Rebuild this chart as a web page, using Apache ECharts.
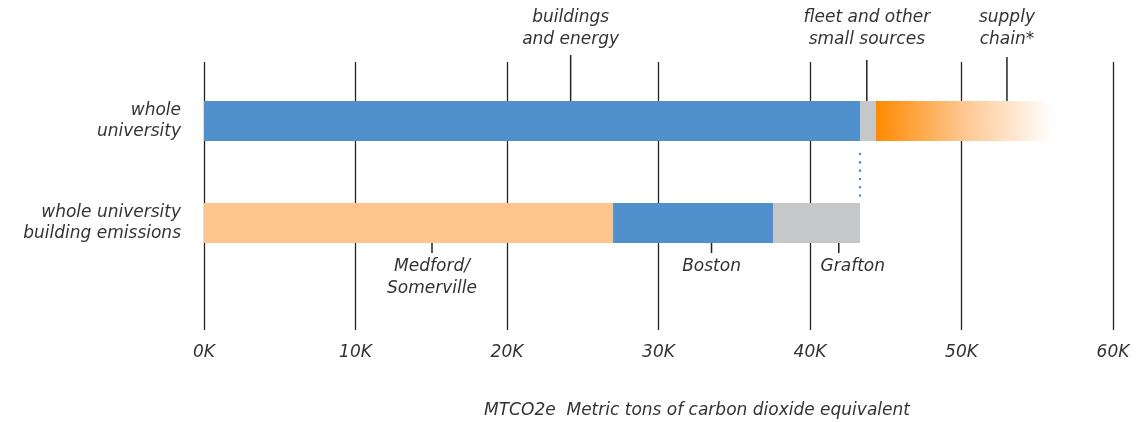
<!DOCTYPE html>
<html><head><meta charset="utf-8">
<script src="https://cdn.jsdelivr.net/npm/echarts@6/dist/echarts.min.js"></script>
<style>html,body{margin:0;padding:0;background:#fff}#c{width:1136px;height:422px}</style>
</head><body><div id="c"></div>
<script>
const categories = ['whole university', 'whole university building emissions'];
const categoryLabels = ['whole\nuniversity', 'whole university\nbuilding emissions'];
// segment values (MTCO2e) per row: [first, second, third]
const wholeUniversity = [43300, 1050, 11650];
const buildingEmissions = [27000, 10560, 5740];
const tickValues = [0, 10000, 20000, 30000, 40000, 50000, 60000];
const topAnnotations = [
  {text: 'buildings\nand energy', x: 24200},
  {text: 'fleet and other\nsmall sources', x: 43750},
  {text: 'supply\nchain*', x: 53000}
];
const bottomAnnotations = [
  {text: 'Medford/\nSomerville', x: 15050},
  {text: 'Boston', x: 33500},
  {text: 'Grafton', x: 41900}
];

const FONT = 'DejaVu Sans';
const FS = 17;
const BLUE = '#4f90cd', GRAY = '#c6c7c8', PEACH = '#fec48c';
const grad = new echarts.graphic.LinearGradient(0, 0, 1, 0, [
  {offset: 0, color: '#ff8a00'},
  {offset: 0.5, color: '#fec791'},
  {offset: 1, color: '#ffffff'}
]);
const colors = [[BLUE, PEACH], [GRAY, BLUE], [grad, GRAY]];

const chart = echarts.init(document.getElementById('c'), null, {renderer: 'canvas'});
const series = [0, 1, 2].map(i => ({
  type: 'bar', stack: 'total', xAxisIndex: 1, yAxisIndex: 1, barWidth: 40,
  silent: true,
  data: [
    {value: wholeUniversity[i], itemStyle: {color: colors[i][0]}},
    {value: buildingEmissions[i], itemStyle: {color: colors[i][1]}}
  ]
}));

const txt = {fontFamily: FONT, fontStyle: 'italic', fontSize: FS, color: '#333'};
chart.setOption({
  animation: false,
  grid: [
    {left: 204, right: 23, top: 62, bottom: 92},
    {left: 204, right: 23, top: 70, bottom: 148}
  ],
  xAxis: [
    {gridIndex: 0, type: 'value', min: 0, max: 60000, interval: 10000,
     axisLine: {show: false}, axisTick: {show: false},
     splitLine: {show: true, lineStyle: {color: '#222', width: 1.3}},
     axisLabel: Object.assign({margin: 14, formatter: v => (v / 1000) + 'K'}, txt)},
    {gridIndex: 1, type: 'value', min: 0, max: 60000, show: false}
  ],
  yAxis: [
    {gridIndex: 0, type: 'value', show: false},
    {gridIndex: 1, type: 'category', inverse: true, data: categories,
     axisLine: {show: false}, axisTick: {show: false},
     axisLabel: Object.assign({margin: 23, align: 'right', lineHeight: 21,
       formatter: (v, i) => categoryLabels[i]}, txt)}
  ],
  series: series
});

function px(v, row) { return chart.convertToPixel({xAxisIndex: 1, yAxisIndex: 1}, [v, categories[row]]); }
const g = [];
const lineStyle = {stroke: '#222', lineWidth: 1.5};
const font = 'italic ' + FS + 'px "' + FONT + '"';
const topY = px(0, 0)[1], botY = px(0, 1)[1];
topAnnotations.forEach((a, i) => {
  const x = px(a.x, 0)[0];
  const y1 = [55, 60, 57][i], y2 = topY + [-9, -4, -9][i];
  g.push({type: 'line', shape: {x1: x, y1: y1, x2: x, y2: y2}, style: lineStyle, silent: true});
  g.push({type: 'text', x: x, y: 29, style: {text: a.text, fill: '#333', font: font,
    textAlign: 'center', textVerticalAlign: 'middle', lineHeight: 22}, silent: true});
});
bottomAnnotations.forEach((a, i) => {
  const x = px(a.x, 1)[0];
  g.push({type: 'line', shape: {x1: x, y1: botY + 13, x2: x, y2: botY + 30}, style: lineStyle, silent: true});
  const lines = a.text.split('\n').length;
  g.push({type: 'text', x: x + (i === 2 ? 14 : 0), y: 267 + (lines - 1) * 11, style: {text: a.text, fill: '#333',
    font: font, textAlign: 'center', textVerticalAlign: 'middle', lineHeight: 22}, silent: true});
});
// dotted connector at end of building emissions
const dx = px(wholeUniversity[0], 0)[0];
g.push({type: 'line', shape: {x1: dx, y1: topY + 33, x2: dx, y2: botY - 27},
  style: {stroke: BLUE, lineWidth: 2.5, lineDash: [0.1, 8.2], lineCap: 'round'}, silent: true});
g.push({type: 'text', x: 697, y: 411, style: {text: 'MTCO2e  Metric tons of carbon dioxide equivalent', fill: '#333',
  font: font, textAlign: 'center', textVerticalAlign: 'middle'}, silent: true});
chart.setOption({graphic: g});
</script></body></html>
